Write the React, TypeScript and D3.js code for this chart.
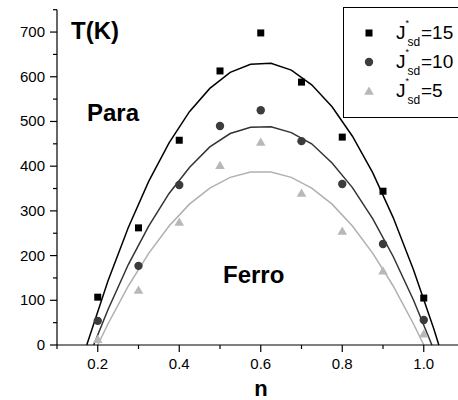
import React from "react";
import * as d3 from "d3";

const nValues = [0.2, 0.3, 0.4, 0.5, 0.6, 0.7, 0.8, 0.9, 1.0];
const j15Points = [107, 262, 458, 613, 698, 588, 465, 344, 105];
const j10Points = [54, 177, 358, 490, 525, 456, 360, 226, 56];
const j5Points = [13, 123, 275, 402, 454, 340, 255, 166, 25];

const fitN15 = [0.173, 0.225, 0.275, 0.325, 0.375, 0.425, 0.475, 0.525, 0.575, 0.625, 0.675, 0.725, 0.775, 0.825, 0.875, 0.925, 0.975, 1.025, 1.037];
const fit15 = [0, 143, 263, 366, 452, 522, 574, 610, 628, 630, 615, 582, 533, 467, 385, 285, 168, 35, 0];
const fitN10 = [0.19, 0.225, 0.275, 0.325, 0.375, 0.425, 0.475, 0.525, 0.575, 0.625, 0.675, 0.725, 0.775, 0.825, 0.875, 0.925, 0.975, 1.02];
const fit10 = [0, 79, 180, 266, 339, 397, 443, 473, 487, 488, 475, 450, 407, 352, 282, 198, 100, 0];
const fitN5 = [0.2, 0.225, 0.275, 0.325, 0.375, 0.425, 0.475, 0.525, 0.575, 0.625, 0.675, 0.725, 0.775, 0.825, 0.875, 0.925, 0.975, 1.0];
const fit5 = [0, 47, 132, 205, 266, 315, 351, 375, 387, 387, 375, 351, 315, 266, 205, 132, 47, 0];

const xMajor = [0.2, 0.4, 0.6, 0.8, 1.0];
const xMinor = [0.1, 0.3, 0.5, 0.7, 0.9];
const yMajor = [0, 100, 200, 300, 400, 500, 600, 700];
const yMinor = [50, 150, 250, 350, 450, 550, 650, 750];
const legendLabels = ["15", "10", "5"];

const W = 458;
const H = 400;
const FONT = "'Liberation Sans', Arial, sans-serif";

export default function App() {
  const x = d3.scaleLinear().domain([0.1, 1.1]).range([57, 464.5]);
  const y = d3.scaleLinear().domain([0, 750]).range([345, 9.7]);
  const line = (ns: number[], vs: number[]) =>
    d3.line<number>().x((_, i) => x(ns[i])).y((v) => y(v))(vs) || "";

  const colors = ["#000000", "#333333", "#b0b0b0"];
  const markerColors = ["#000000", "#3c3c3c", "#b8b8b8"];

  const square = (cx: number, cy: number, c: string, k: string) => (
    <rect key={k} x={cx - 3.5} y={cy - 3.5} width={7} height={7} fill={c} />
  );
  const circle = (cx: number, cy: number, c: string, k: string) => (
    <circle key={k} cx={cx} cy={cy} r={4.2} fill={c} />
  );
  const tri = (cx: number, cy: number, c: string, k: string) => (
    <path key={k} d={`M${cx},${cy - 4.5}L${cx + 4.8},${cy + 3.8}L${cx - 4.8},${cy + 3.8}Z`} fill={c} />
  );
  const shapes = [square, circle, tri];
  const seriesPts = [j15Points, j10Points, j5Points];

  const legendY = [33, 62, 91];

  return (
    <svg width={W} height={H} style={{ position: "absolute", left: 0, top: 0, background: "#fff" }} fontFamily={FONT}>
      <rect x={0} y={0} width={W} height={H} fill="#fff" />
      {/* fit curves */}
      <path d={line(fitN15, fit15)} fill="none" stroke={colors[0]} strokeWidth={1.5} />
      <path d={line(fitN10, fit10)} fill="none" stroke={colors[1]} strokeWidth={1.5} />
      <path d={line(fitN5, fit5)} fill="none" stroke={colors[2]} strokeWidth={1.5} />
      {/* markers */}
      {seriesPts.map((pts, s) =>
        pts.map((v, i) => shapes[s](x(nValues[i]), y(v), markerColors[s], `m${s}-${i}`))
      )}
      {/* axes */}
      <line x1={57} x2={W} y1={345} y2={345} stroke="#000" strokeWidth={1.2} />
      <line x1={57} x2={57} y1={345} y2={9.7} stroke="#000" strokeWidth={1.2} />
      {xMajor.map((t) => (
        <g key={`xt${t}`}>
          <line x1={x(t)} x2={x(t)} y1={345} y2={352} stroke="#000" strokeWidth={1.2} />
          <text x={x(t)} y={369} fontSize={15} textAnchor="middle" fill="#000">
            {t.toFixed(1)}
          </text>
        </g>
      ))}
      {xMinor.map((t) => (
        <line key={`xm${t}`} x1={x(t)} x2={x(t)} y1={345} y2={349} stroke="#000" strokeWidth={1.2} />
      ))}
      {yMajor.map((t) => (
        <g key={`yt${t}`}>
          <line x1={50} x2={57} y1={y(t)} y2={y(t)} stroke="#000" strokeWidth={1.2} />
          <text x={45} y={y(t) + 5} fontSize={15} textAnchor="end" fill="#000">
            {t}
          </text>
        </g>
      ))}
      {yMinor.map((t) => (
        <line key={`ym${t}`} x1={53} x2={57} y1={y(t)} y2={y(t)} stroke="#000" strokeWidth={1.2} />
      ))}
      {/* axis titles & annotations */}
      <text x={261} y={396} fontSize={22} fontWeight="bold" textAnchor="middle">n</text>
      <text x={71} y={39} fontSize={24} fontWeight="bold">T(K)</text>
      <text x={87} y={121} fontSize={24} fontWeight="bold">Para</text>
      <text x={223} y={283} fontSize={24} fontWeight="bold">Ferro</text>
      {/* legend */}
      <rect x={343.5} y={7.5} width={130} height={110} fill="#fff" stroke="#000" strokeWidth={1} />
      {legendLabels.map((lab, i) => (
        <g key={`lg${i}`}>
          {shapes[i](369, legendY[i], markerColors[i], `lm${i}`)}
          <text x={396} y={legendY[i] + 6} fontSize={19} fill="#000">
            J
            <tspan dy={-13} fontSize={9}>*</tspan>
            <tspan dx={-1.5} dy={20} fontSize={12}>sd</tspan>
            <tspan dx={0.8} dy={-7} fontSize={19}>={lab}</tspan>
          </text>
        </g>
      ))}
    </svg>
  );
}
